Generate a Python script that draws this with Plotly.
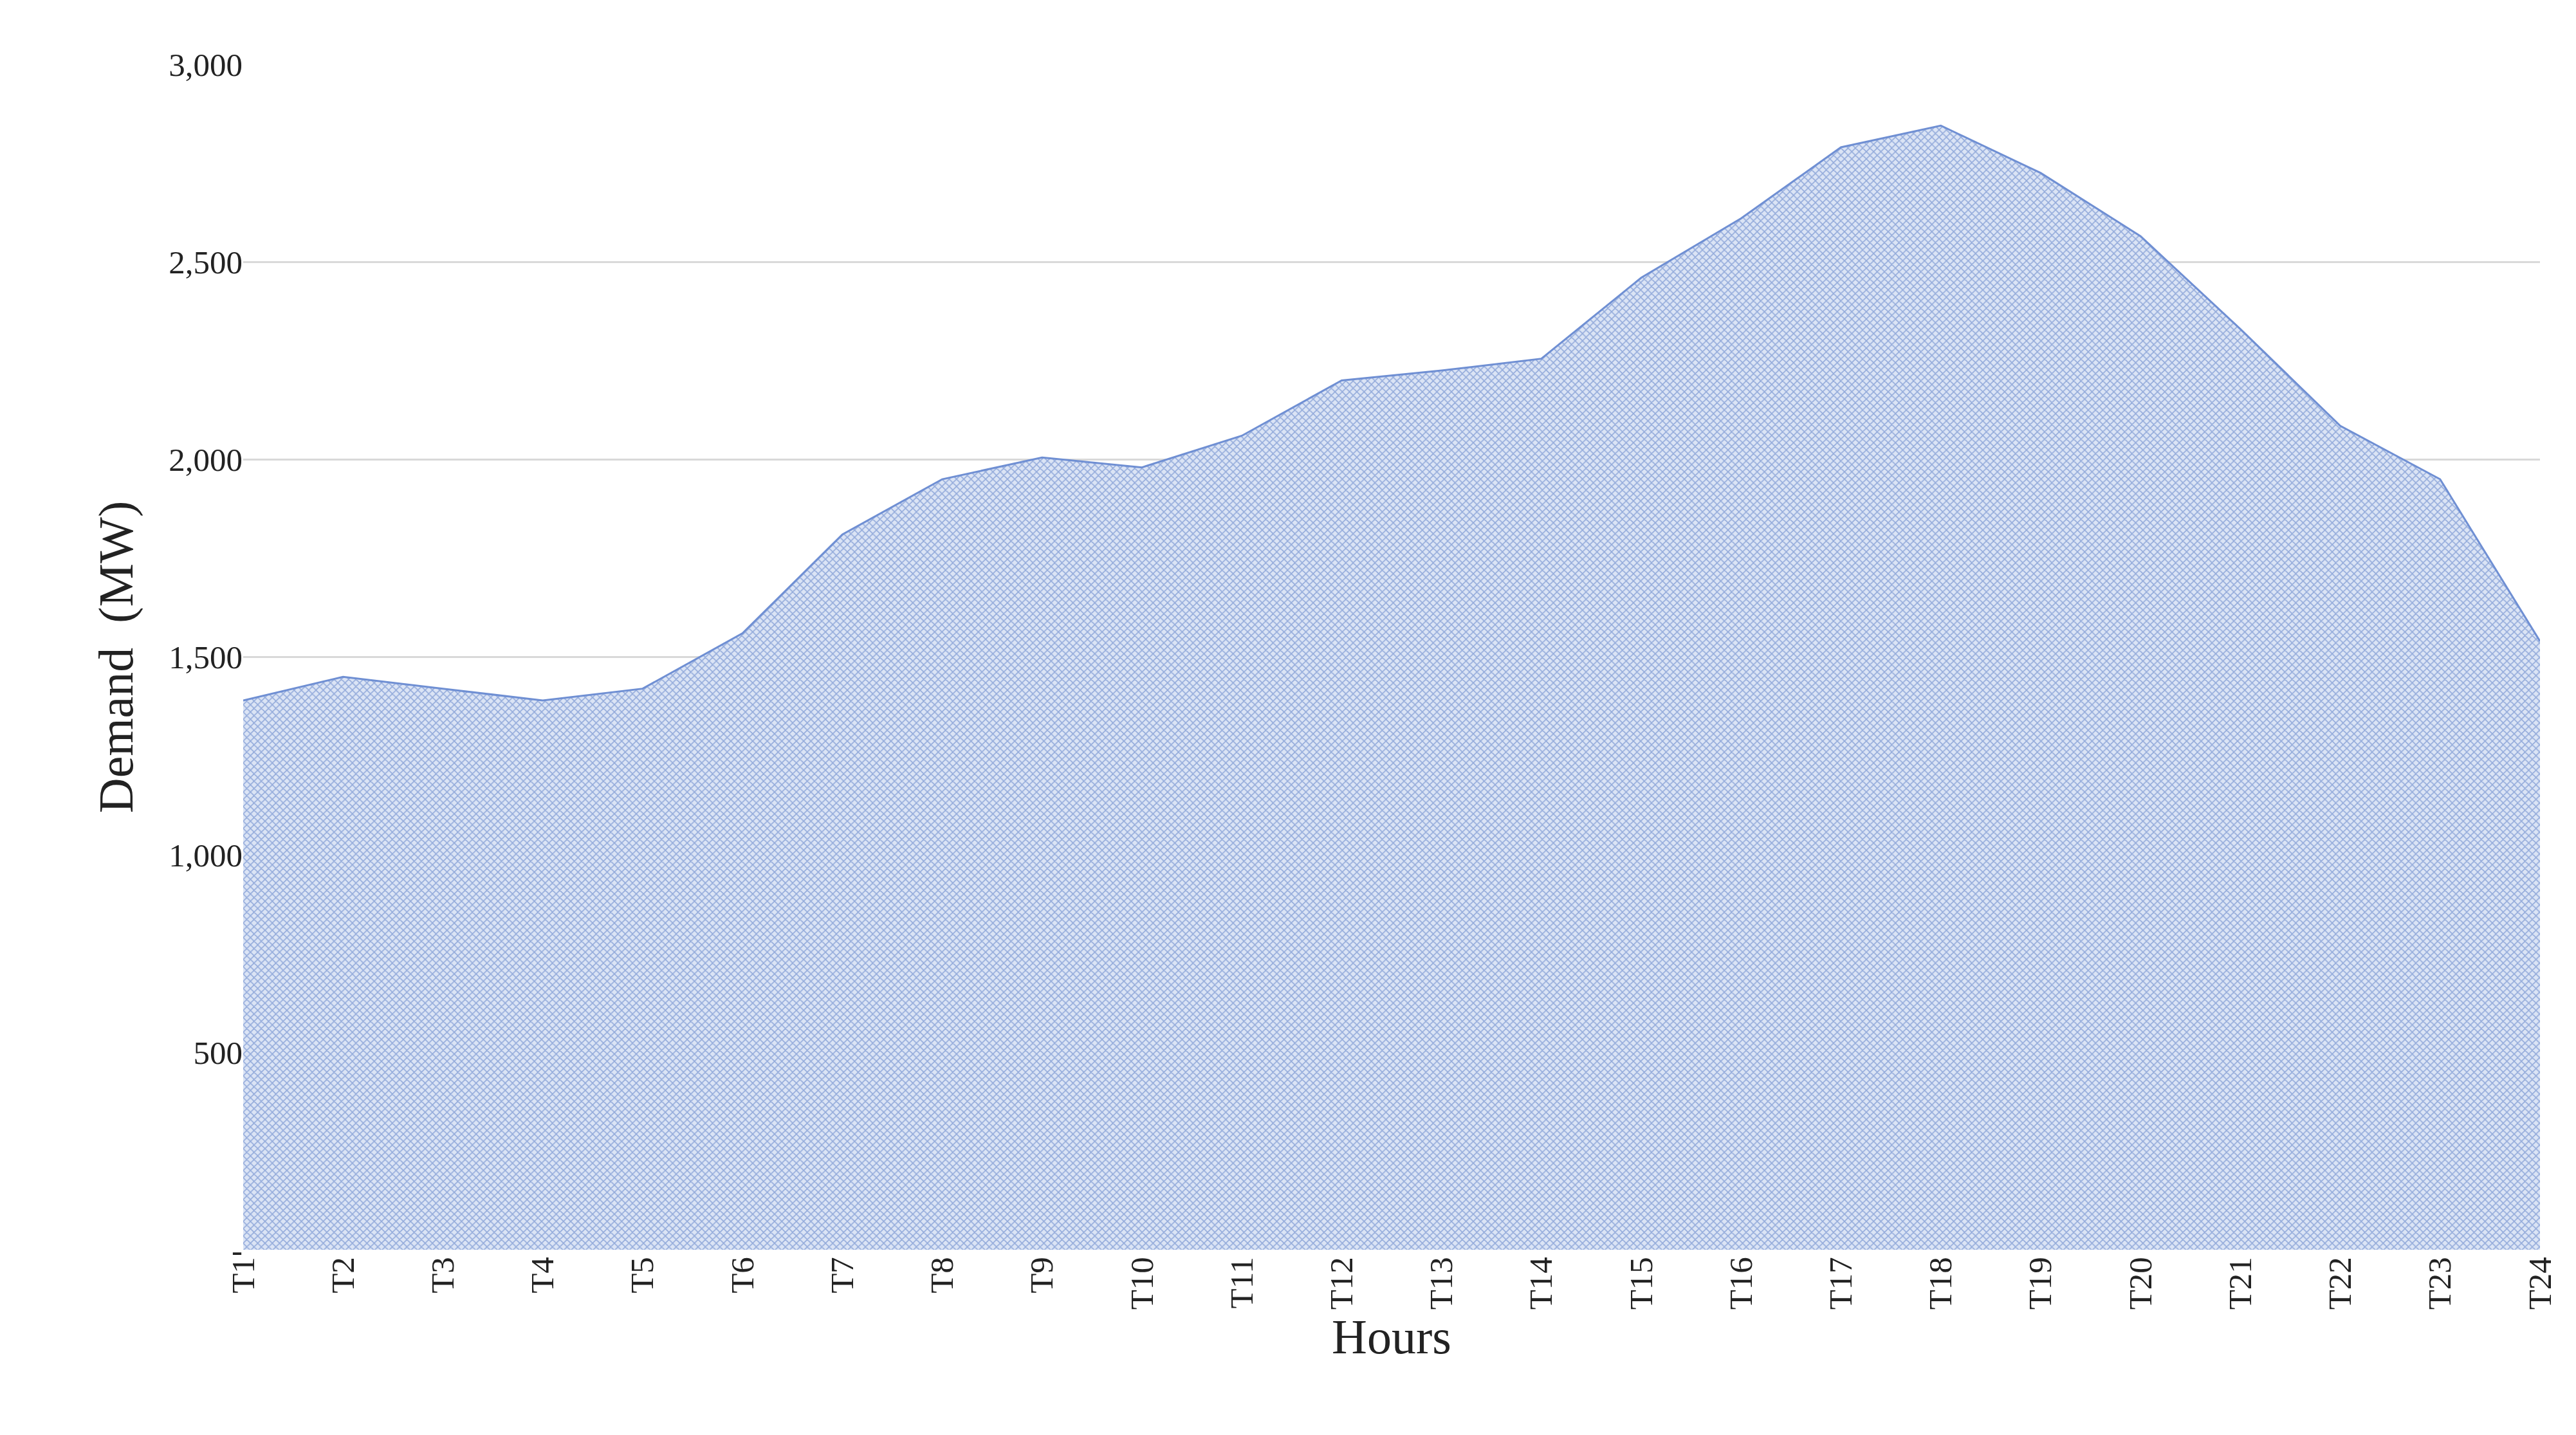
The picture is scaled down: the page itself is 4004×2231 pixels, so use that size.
import plotly.graph_objects as go

hours = [f"T{i}" for i in range(1, 25)]
demand = [1390, 1450, 1420, 1390, 1420, 1560, 1810, 1950, 2005, 1980, 2060, 2200,
          2225, 2255, 2460, 2610, 2790, 2845, 2725, 2565, 2330, 2085, 1950, 1540]
ytick_vals = [0, 500, 1000, 1500, 2000, 2500, 3000]
ytick_text = ["-", "500", "1,000", "1,500", "2,000", "2,500", "3,000"]

font = "Liberation Serif, DejaVu Serif, serif"

fig = go.Figure(go.Scatter(
    x=list(range(len(hours))), y=demand, mode="lines",
    line=dict(color="#6f8fd3", width=3),
    fill="tozeroy",
    fillpattern=dict(shape="x", fgcolor="#4a6fc0", bgcolor="#dbe4f5", size=8, solidity=0.35),
))
fig.update_layout(
    width=4004, height=2231, plot_bgcolor="white", paper_bgcolor="white",
    margin=dict(l=370, r=64, t=92, b=296), showlegend=False,
    font=dict(family=font, color="#222", size=51),
)
fig.update_xaxes(range=[0, 23], tickvals=list(range(24)), ticktext=hours, tickangle=-90,
                 showgrid=False, zeroline=False, showline=False, ticks="",
                 title=dict(text="Hours", font=dict(size=76), standoff=10))
fig.update_yaxes(range=[0, 3000], tickvals=ytick_vals, ticktext=ytick_text,
                 showgrid=True, gridcolor="#d9d9d9", gridwidth=3, zeroline=False,
                 ticks="", title=dict(text="Demand  (MW)", font=dict(size=76), standoff=30))
fig.write_html("out.html")
